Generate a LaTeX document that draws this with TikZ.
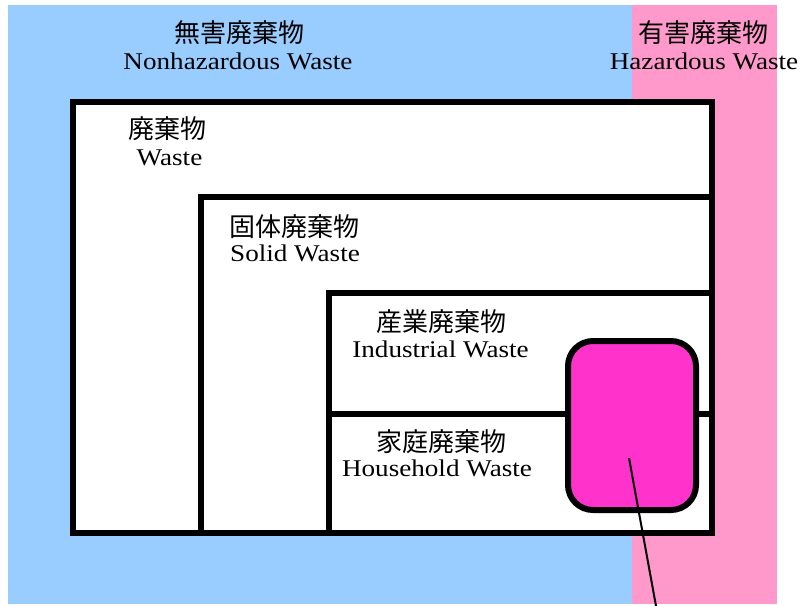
\documentclass[tikz,border=0pt]{standalone}
\usepackage{fontspec}
\setmainfont{Liberation Serif}[FakeStretch=1.13]
\newfontfamily\cjk{Noto Sans CJK JP}
\definecolor{nonhaz}{HTML}{99CCFF}
\definecolor{haz}{HTML}{FF99CC}
\definecolor{hazbox}{HTML}{FF33CC}
\begin{document}
\begin{tikzpicture}[x=1pt,y=-1pt,
  jp/.style={inner sep=0pt,anchor=center,font=\cjk\fontsize{26}{28}\selectfont},
  en/.style={inner sep=0pt,anchor=base,font=\fontsize{24}{28}\selectfont},
  wall/.style={draw=black,line width=6pt,fill=white}]
\useasboundingbox (0,0) rectangle (802,605);
\fill[nonhaz] (8,5) rectangle (632,604);
\fill[haz] (632,5) rectangle (777,604);
% boxes
\draw[wall] (73,102) rectangle (712,533);
\draw[wall] (201,197) rectangle (712,533);
\draw[wall] (329,293) rectangle (712,533);
\draw[draw=black,line width=5.5pt] (329,414) -- (712,414);
\node[draw=black,line width=6pt,fill=hazbox,rounded corners=25pt,
  minimum width=128pt,minimum height=169pt,inner sep=0pt] (hz) at (632,425.5) {};
\coordinate (p1) at (629,458);
\coordinate (p2) at (656,606);
\draw[line width=2pt] (p1) -- (p2);
% labels
\node[jp] (t1) at (239,33) {無害廃棄物};
\node[en] (e1) at (238,69) {Nonhazardous Waste};
\node[jp] (t2) at (703,33) {有害廃棄物};
\node[en] (e2) at (704,69) {Hazardous Waste};
\node[jp] (t3) at (167.5,129) {廃棄物};
\node[en] (e3) at (169.5,165) {Waste};
\node[jp] (t4) at (294.5,226.5) {固体廃棄物};
\node[en] (e4) at (295,261.5) {Solid Waste};
\node[jp] (t5) at (441,321.5) {産業廃棄物};
\node[en] (e5) at (440.5,357) {Industrial Waste};
\node[jp] (t6) at (441,441.5) {家庭廃棄物};
\node[en] (e6) at (437,476.5) {Household Waste};
\end{tikzpicture}
\end{document}
